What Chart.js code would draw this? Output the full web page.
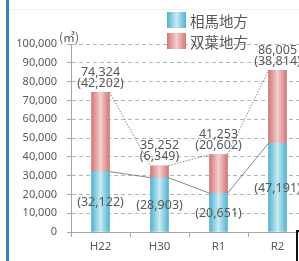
<!DOCTYPE html>
<html>
<head>
<meta charset="utf-8">
<script src="https://cdn.jsdelivr.net/npm/chart.js@4"></script>
<style>
  html, body { margin: 0; padding: 0; background: #fff; overflow: hidden; }
  #wrap { position: relative; width: 299px; height: 261px; overflow: hidden; }
  #chart-box { position: absolute; left: 0; top: 0; width: 307px; height: 261px; }
  #edge-blue { position: absolute; left: 6px; top: 0; width: 3px; height: 261px; background: #3b7dbf; }
  #edge-top { position: absolute; left: 9px; top: 9px; width: 290px; height: 1px; background: #f1f1f1; }
  #corner { position: absolute; left: 296px; top: 230px; width: 10px; height: 40px; border-left: 2px solid #111; border-top: 2px solid #111; }
  #legend { position: absolute; left: 167px; top: 12px; }
  #legend ul { list-style: none; margin: 0; padding: 0; }
  #legend li { display: flex; align-items: center; height: 16px; margin-bottom: 5px; }
</style>
</head>
<body>
<div id="wrap">
  <div id="edge-top"></div>
  <div id="chart-box"><canvas id="chart" width="307" height="261"></canvas></div>
  <div id="legend"><ul></ul></div>
  <div id="edge-blue"></div>
  <div id="corner"></div>
</div>
<script>
// data
const years = ['H22', 'H30', 'R1', 'R2'];
const soma = [32122, 28903, 20651, 47191];
const futaba = [42202, 6349, 20602, 38814];
const seriesNames = ['相馬地方', '双葉地方'];
const yMax = 100000;
const yStep = 10000;
const unitLabel = '(㎥)';

const BAR_W = 18;
const textColor = '#595959';
const colors = [
  { edge: '#52b3ce', mid: '#c8eaf3' },
  { edge: '#d27777', mid: '#f4cfcf' },
];
const fmt = (v) => v.toLocaleString('en-US');

// horizontal gradient across each bar
const barFill = (i) => (ctx) => {
  const c = ctx.chart;
  const x = c.scales.x;
  if (!c.chartArea || !x) return colors[i].edge;
  const cx = x.getPixelForValue(ctx.dataIndex);
  const g = c.ctx.createLinearGradient(cx - BAR_W / 2, 0, cx + BAR_W / 2, 0);
  g.addColorStop(0, colors[i].edge);
  g.addColorStop(0.5, colors[i].mid);
  g.addColorStop(1, colors[i].edge);
  return g;
};

const extras = {
  id: 'extras',
  afterDatasetsDraw(c) {
    const { ctx } = c;
    const m0 = c.getDatasetMeta(0).data;
    const m1 = c.getDatasetMeta(1).data;
    ctx.save();
    // series lines between stack tops
    [[m0, []], [m1, [1.5, 1.5]]].forEach(([els, dash]) => {
      ctx.strokeStyle = '#6b6b6b';
      ctx.lineWidth = 0.8;
      ctx.setLineDash(dash);
      for (let i = 0; i < els.length - 1; i++) {
        const a = els[i];
        const b = els[i + 1];
        ctx.beginPath();
        ctx.moveTo(a.x + BAR_W / 2, a.y);
        ctx.lineTo(b.x - BAR_W / 2, b.y);
        ctx.stroke();
      }
    });
    ctx.setLineDash([]);
    ctx.fillStyle = textColor;
    ctx.font = '12.5px "Noto Sans", sans-serif';
    ctx.textAlign = 'center';
    ctx.textBaseline = 'middle';
    m0.forEach((el, i) => {
      ctx.fillText(`(${fmt(soma[i])})`, el.x, (el.y + el.base) / 2 + 1);
    });
    m1.forEach((el, i) => {
      ctx.fillText(fmt(soma[i] + futaba[i]), el.x, el.y - 20);
      ctx.fillText(`(${fmt(futaba[i])})`, el.x, el.y - 9);
    });
    // unit label
    ctx.font = '12px "Noto Sans CJK JP", sans-serif';
    ctx.fillText(unitLabel, c.chartArea.left - 2, c.chartArea.top - 7);
    ctx.restore();
  },
};

const chart = new Chart(document.getElementById('chart'), {
  type: 'bar',
  data: {
    labels: years,
    datasets: [
      { label: seriesNames[0], data: soma, backgroundColor: barFill(0), barThickness: BAR_W },
      { label: seriesNames[1], data: futaba, backgroundColor: barFill(1), barThickness: BAR_W },
    ],
  },
  options: {
    responsive: false,
    animation: false,
    devicePixelRatio: 1,
    layout: { padding: { top: 44, left: 0, right: 0, bottom: 0 } },
    plugins: { legend: { display: false }, tooltip: { enabled: false } },
    scales: {
      x: {
        stacked: true,
        afterFit: (s) => { s.height = 29; },
        grid: { drawOnChartArea: false, tickLength: 5, color: '#a6a6a6', offset: true },
        border: { color: '#a6a6a6' },
        ticks: { color: textColor, font: { family: 'Noto Sans', size: 11.5 }, padding: 3 },
      },
      y: {
        stacked: true,
        min: 0,
        max: yMax,
        afterFit: (s) => { s.width = 71; },
        grid: { color: '#b5b5b5', tickLength: 4, tickColor: '#a6a6a6' },
        border: { color: '#a6a6a6', dash: [4, 3] },
        ticks: {
          stepSize: yStep,
          autoSkip: false,
          color: textColor,
          font: { family: 'Noto Sans', size: 11 },
          padding: 10,
          callback: (v) => fmt(v),
        },
      },
    },
  },
  plugins: [extras],
});

// html legend
const ul = document.querySelector('#legend ul');
chart.data.datasets.forEach((ds, i) => {
  const li = document.createElement('li');
  const box = document.createElement('span');
  box.style.display = 'block';
  box.style.width = '19px';
  box.style.height = '16px';
  box.style.marginRight = '4px';
  box.style.background = `linear-gradient(to right, ${colors[i].edge}, ${colors[i].mid}, ${colors[i].edge})`;
  const label = document.createElement('span');
  label.style.font = '14.5px "Noto Sans CJK JP", sans-serif';
  label.style.color = textColor;
  label.textContent = ds.label;
  li.appendChild(box);
  li.appendChild(label);
  ul.appendChild(li);
});
</script>
</body>
</html>
